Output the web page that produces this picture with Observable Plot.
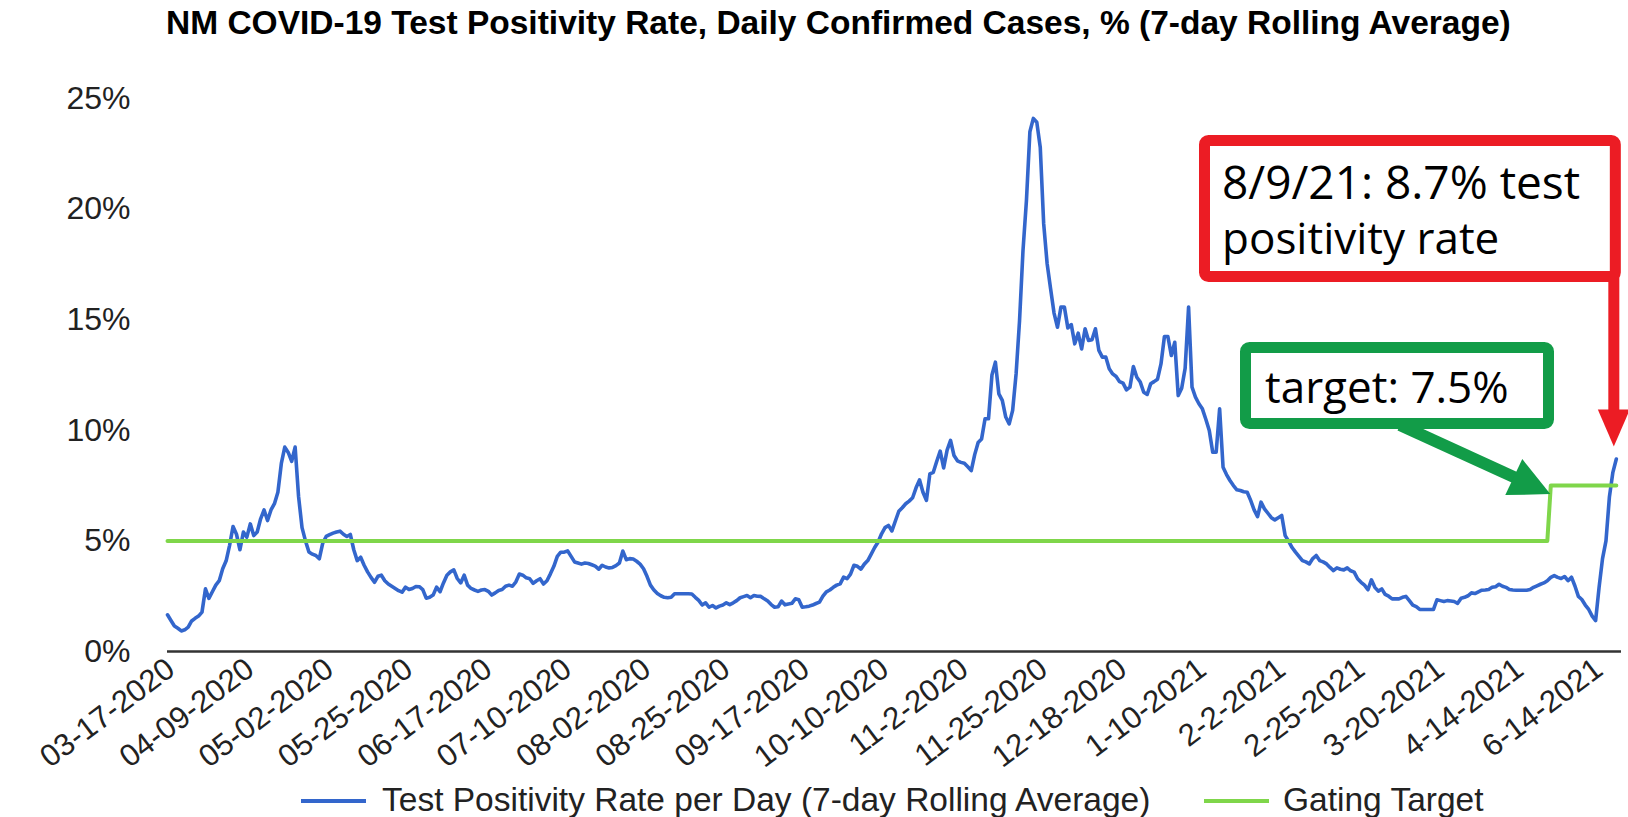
<!DOCTYPE html>
<html>
<head>
<meta charset="utf-8">
<script src="https://cdn.jsdelivr.net/npm/d3@7"></script>
<script src="https://cdn.jsdelivr.net/npm/@observablehq/plot@0.6"></script>
<style>
  html, body { margin: 0; padding: 0; background: #fff; }
  body { width: 1628px; height: 817px; position: relative; overflow: hidden; font-family: "Liberation Sans", Arial, sans-serif; }
  #title { position: absolute; left: 166px; top: 3px; font-weight: bold; font-size: 33.5px; line-height: 40px; color: #000; white-space: nowrap; }
  #chart { position: absolute; left: 0; top: 46px; }
  .leg { position: absolute; top: 780px; font-size: 33.5px; color: #222; white-space: nowrap; line-height: 40px; }
  .sw { position: absolute; height: 4px; top: 799px; }
  #anno { position: absolute; left: 0; top: 0; }
</style>
</head>
<body>
<div id="title"></div>
<div id="chart"></div>
<div class="sw" id="sw1"></div><div class="leg" id="lg1"></div>
<div class="sw" id="sw2"></div><div class="leg" id="lg2"></div>
<script>
// ---------- data ----------
const titleText = "NM COVID-19 Test Positivity Rate, Daily Confirmed Cases, % (7-day Rolling Average)";
const seriesNames = ["Test Positivity Rate per Day (7-day Rolling Average)", "Gating Target"];
const seriesColors = ["#3366cc", "#7fd64a"];

const tickLabels = ["03-17-2020","04-09-2020","05-02-2020","05-25-2020","06-17-2020","07-10-2020",
  "08-02-2020","08-25-2020","09-17-2020","10-10-2020","11-2-2020","11-25-2020","12-18-2020",
  "1-10-2021","2-2-2021","2-25-2021","3-20-2021","4-14-2021","6-14-2021"];
const tickRows = [0,23,46,69,92,115,138,161,184,207,230,253,276,299,322,345,368,391,414];

const yTicks = [0, 5, 10, 15, 20, 25];

// test positivity rate (%), one value per row of the source sheet
const positivity = [
  1.66,1.4,1.15,1.05,0.93,0.98,1.1,1.38,1.5,1.6,
  1.78,2.83,2.4,2.7,3.0,3.2,3.74,4.1,4.8,5.65,
  5.3,4.6,5.4,5.17,5.77,5.24,5.4,6.0,6.4,5.92,
  6.4,6.68,7.2,8.5,9.24,9.0,8.6,9.24,7.0,5.6,
  5.0,4.5,4.4,4.34,4.19,4.9,5.2,5.28,5.35,5.4,
  5.44,5.3,5.2,5.29,4.6,4.11,4.26,3.9,3.6,3.35,
  3.13,3.4,3.45,3.2,3.05,2.95,2.85,2.75,2.68,2.91,
  2.8,2.85,2.94,2.93,2.8,2.41,2.45,2.55,2.91,2.7,
  3.1,3.45,3.6,3.69,3.3,3.1,3.45,3.0,2.85,2.78,
  2.72,2.78,2.8,2.72,2.55,2.65,2.76,2.8,2.95,3.0,
  2.95,3.15,3.5,3.45,3.33,3.29,3.08,3.2,3.29,3.05,
  3.2,3.51,3.85,4.3,4.49,4.49,4.55,4.3,4.05,4.0,
  3.95,4.0,3.98,3.92,3.86,3.72,3.9,3.82,3.78,3.8,
  3.88,4.0,4.54,4.15,4.2,4.18,4.08,3.95,3.74,3.4,
  3.0,2.78,2.62,2.52,2.45,2.43,2.45,2.61,2.61,2.61,
  2.61,2.61,2.6,2.45,2.31,2.1,2.2,2.0,2.08,1.97,
  2.05,2.1,2.2,2.12,2.2,2.3,2.43,2.48,2.53,2.43,
  2.53,2.5,2.49,2.38,2.28,2.12,2.0,2.02,2.28,2.11,
  2.15,2.18,2.38,2.34,2.0,2.02,2.05,2.1,2.17,2.23,
  2.5,2.7,2.78,2.9,3.0,3.06,3.36,3.29,3.5,3.9,
  3.85,3.72,3.95,4.11,4.4,4.7,4.95,5.32,5.6,5.7,
  5.45,5.9,6.34,6.5,6.68,6.8,6.95,7.4,7.76,7.2,
  6.83,8.03,8.1,8.6,9.06,8.3,9.1,9.54,8.86,8.62,
  8.55,8.51,8.35,8.18,8.9,9.45,9.61,10.52,10.52,12.5,
  13.08,11.65,11.35,10.6,10.29,10.9,12.55,14.96,18.13,20.39,
  23.5,24.1,23.93,22.8,19.33,17.53,16.4,15.3,14.66,15.57,
  15.57,14.63,14.78,13.91,14.39,13.68,14.59,14.06,14.09,14.59,
  13.61,13.31,13.31,12.78,12.55,12.43,12.2,12.13,11.83,11.95,
  12.88,12.4,12.18,11.72,11.62,12.1,12.2,12.31,13.0,14.24,
  14.24,13.38,13.98,11.57,11.9,12.8,15.57,11.95,11.5,11.2,
  10.97,10.5,9.99,9.01,9.01,10.97,8.33,8.0,7.73,7.5,
  7.31,7.28,7.22,7.2,6.83,6.4,6.1,6.75,6.45,6.25,
  6.05,5.95,6.05,6.15,5.24,4.99,4.7,4.49,4.3,4.11,
  4.05,3.96,4.2,4.34,4.11,4.05,3.96,3.8,3.66,3.78,
  3.72,3.69,3.78,3.65,3.59,3.29,3.13,3.0,2.79,3.24,
  2.9,2.73,2.83,2.58,2.5,2.38,2.38,2.38,2.45,2.49,
  2.3,2.1,2.03,1.9,1.9,1.9,1.9,1.9,2.34,2.3,
  2.26,2.3,2.28,2.26,2.18,2.41,2.45,2.52,2.65,2.62,
  2.7,2.77,2.78,2.8,2.9,2.93,3.04,2.95,2.9,2.8,
  2.78,2.77,2.77,2.77,2.77,2.8,2.9,2.97,3.04,3.1,
  3.2,3.35,3.43,3.35,3.3,3.39,3.2,3.36,2.96,2.49,
  2.35,2.1,1.9,1.6,1.4,2.9,4.2,5.0,7.0,8.1,
  8.7
];

// gating target (%): break points of the step line
const targetRows = [0, 400, 401, 420];
const targetValues = [5, 5, 7.5, 7.5];

// annotation texts
const redNoteLines = ["8/9/21: 8.7% test", "positivity rate"];
const greenNoteText = "target: 7.5%";
const lastRate = 8.7;

// ---------- chart ----------
document.getElementById("title").textContent = titleText;

const rows = positivity.map((d, i) => i);
const target = targetRows.map((r, i) => ({row: r, value: targetValues[i]}));
const ticks = tickRows.map((r, i) => ({row: r, label: tickLabels[i]}));

const CH_TOP = 46;
const plot = Plot.plot({
  width: 1628,
  height: 734,
  marginLeft: 167,
  marginRight: 7,
  marginTop: 52,
  marginBottom: 129,
  style: {fontFamily: "'Liberation Sans', Arial, sans-serif", fontSize: "32px", color: "#222", background: "#fff", overflow: "visible"},
  x: {domain: [0, 421.5], axis: null},
  y: {domain: [0, 25], axis: null},
  marks: [
    Plot.axisY(yTicks, {tickFormat: d => d + "%", tickSize: 0, tickPadding: 37, label: null, fontSize: 32, fill: "#222"}),
    Plot.ruleY([0], {stroke: "#333", strokeWidth: 2.5}),
    Plot.line(positivity, {x: (d, i) => rows[i], y: d => d, stroke: seriesColors[0], strokeWidth: 3.6, strokeLinejoin: "round"}),
    Plot.line(target, {x: "row", y: "value", stroke: seriesColors[1], strokeWidth: 4}),
    Plot.text(ticks, {x: "row", y: 0, text: "label", rotate: -37, textAnchor: "end", lineAnchor: "top", dx: -4, dy: 4, fontSize: 31, fill: "#222"})
  ]
});
document.getElementById("chart").appendChild(plot);

// ---------- legend ----------
const sw1 = document.getElementById("sw1"), sw2 = document.getElementById("sw2");
sw1.style.left = "301px"; sw1.style.width = "65px"; sw1.style.background = seriesColors[0];
sw2.style.left = "1204px"; sw2.style.width = "65px"; sw2.style.background = seriesColors[1];
const lg1 = document.getElementById("lg1"), lg2 = document.getElementById("lg2");
lg1.textContent = seriesNames[0]; lg1.style.left = "382px";
lg2.textContent = seriesNames[1]; lg2.style.left = "1283px";

// ---------- annotations ----------
const sx = plot.scale("x"), sy = plot.scale("y");
const lastX = sx.apply(positivity.length - 1), lastY = sy.apply(lastRate) + CH_TOP;
const stepX = sx.apply(targetRows[2]), stepY = sy.apply(targetValues[2]) + CH_TOP;

const NS = "http://www.w3.org/2000/svg";
const svg = document.createElementNS(NS, "svg");
svg.setAttribute("id", "anno");
svg.setAttribute("width", 1628);
svg.setAttribute("height", 817);
document.body.appendChild(svg);
function el(tag, attrs, text) {
  const e = document.createElementNS(NS, tag);
  for (const k in attrs) e.setAttribute(k, attrs[k]);
  if (text != null) e.textContent = text;
  svg.appendChild(e);
  return e;
}
const RED = "#ec1c24", GREEN = "#129c48";
// red callout
const rTipX = lastX - 2, rTipY = lastY - 12;
el("rect", {x: 1204.5, y: 140.5, width: rTipX + 1.5 - 1204.5, height: 136, rx: 4, fill: "#fff", stroke: RED, "stroke-width": 11});
el("rect", {x: rTipX - 5.5, y: 276, width: 11, height: rTipY - 36 - 276, fill: RED});
el("polygon", {points: `${rTipX - 16},${rTipY - 37} ${rTipX + 16},${rTipY - 37} ${rTipX},${rTipY}`, fill: RED});
el("text", {x: 1222, y: 199, "font-family": "'Open Sans', 'Noto Sans', sans-serif", "font-size": 46, fill: "#000"}, redNoteLines[0]);
el("text", {x: 1222, y: 254, "font-family": "'Open Sans', 'Noto Sans', sans-serif", "font-size": 44, fill: "#000"}, redNoteLines[1]);
// green callout
const gTipX = stepX, gTipY = stepY + 9;
el("line", {x1: 1400, y1: 425, x2: gTipX - 34, y2: gTipY - 16, stroke: GREEN, "stroke-width": 12});
el("polygon", {points: `${gTipX},${gTipY} ${gTipX - 45},${gTipY + 1} ${gTipX - 28},${gTipY - 35}`, fill: GREEN});
el("rect", {x: 1245.5, y: 347.5, width: 303, height: 76, rx: 4, fill: "#fff", stroke: GREEN, "stroke-width": 11});
el("text", {x: 1265, y: 403, "font-family": "'Open Sans', 'Noto Sans', sans-serif", "font-size": 44, fill: "#000"}, greenNoteText);
</script>
</body>
</html>
